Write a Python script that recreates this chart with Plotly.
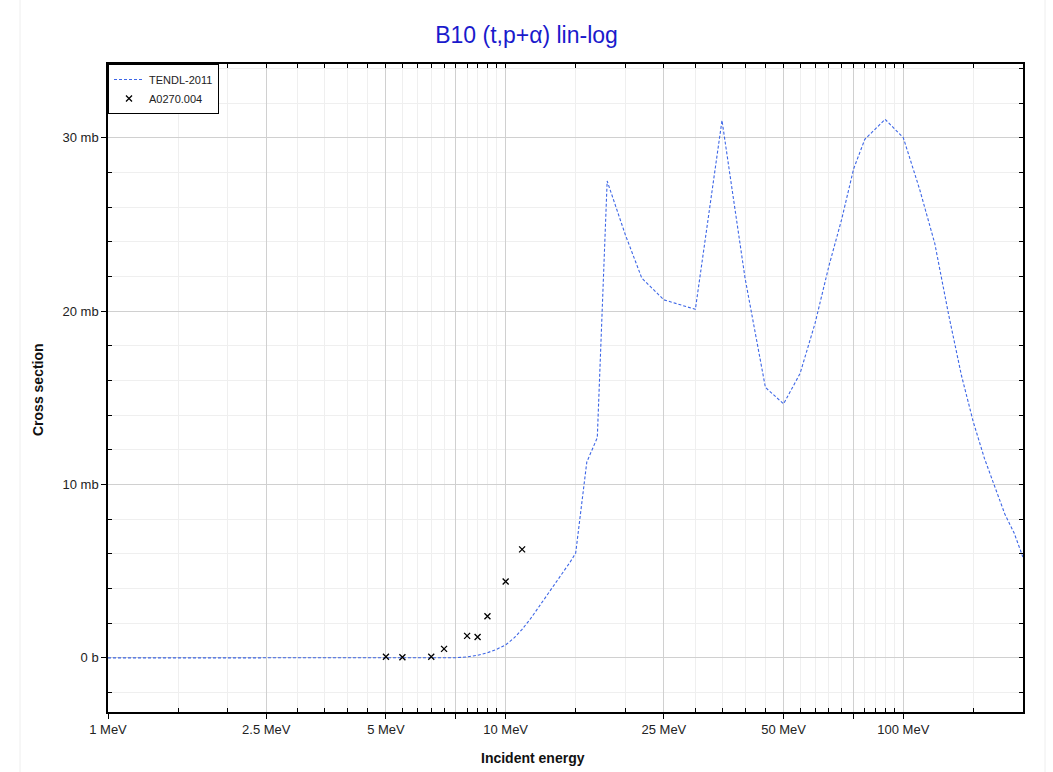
import plotly.graph_objects as go
import numpy as np

# ---------------- data ----------------
tendl_energy = [1, 2, 3, 4, 5, 6, 7, 7.5, 8, 8.5, 9, 9.5, 10, 10.5, 11, 11.5, 12, 12.5,
                13, 13.5, 14, 14.5, 15, 16, 17, 18, 20, 22, 25, 30, 35, 40, 45, 50,
                55, 60, 65, 70, 75, 80, 90, 100, 110, 120, 130, 140, 150, 160, 170,
                180, 190, 200]
tendl_xs = [0, 0, 0, 0, 0, 0, 0, 0.01, 0.06, 0.15, 0.3, 0.5, 0.75, 1.15, 1.65, 2.2, 2.8, 3.4,
            3.95, 4.5, 5.0, 5.5, 6.04, 11.3, 12.7, 27.5, 24.4, 21.9, 20.65, 20.1, 31.0, 21.9, 15.6, 14.65,
            16.4, 19.3, 22.6, 25.3, 28.2, 29.9, 31.06, 30.0, 27.0, 23.9, 19.8, 16.3, 13.6, 11.5, 9.8,
            8.3, 7.2, 5.8]

exp_energy = [5.0, 5.5, 6.5, 7.0, 8.0, 8.5, 9.0, 10.0, 11.0]
exp_xs = [0.07, 0.04, 0.07, 0.52, 1.27, 1.21, 2.40, 4.41, 6.26]

x_major = [1, 2.5, 5, 7.5, 10, 25, 50, 75, 100]
x_major_text = ["1 MeV", "2.5 MeV", "5 MeV", "", "10 MeV", "25 MeV", "50 MeV", "", "100 MeV"]
x_minor = [1.5, 2, 3, 3.5, 4, 4.5, 5.5, 6, 6.5, 7, 8, 8.5, 9, 9.5, 15, 20, 30, 35, 40, 45,
           55, 60, 65, 70, 80, 85, 90, 95, 150]
y_major = [0, 10, 20, 30]
y_major_text = ["0 b", "10 mb", "20 mb", "30 mb"]
y_minor = [-2, 2, 4, 6, 8, 12, 14, 16, 18, 22, 24, 26, 28, 32, 34]

x_range = [0, np.log10(200)]
y_range = [-3.12, 34.25]

FONT = "Liberation Sans, Arial, sans-serif"
MAJOR_GRID = "#d0d0d0"
MINOR_GRID = "#efefef"

fig = go.Figure()
fig.add_trace(go.Scatter(
    x=tendl_energy, y=tendl_xs, mode="lines", name="TENDL-2011",
    line=dict(color="#3d66e6", width=1.1, dash="3px,2px"),
))
fig.add_trace(go.Scatter(
    x=exp_energy, y=exp_xs, mode="markers", name="A0270.004",
    marker=dict(symbol="x-thin", size=6, color="black", line=dict(color="black", width=1.3)),
))
# invisible trace to activate mirrored tick axes
fig.add_trace(go.Scatter(
    x=[1], y=[0], xaxis="x2", yaxis="y2", mode="markers",
    marker=dict(opacity=0), showlegend=False, hoverinfo="skip",
))

fig.update_layout(
    width=1053, height=772,
    margin=dict(l=108, r=30, t=64, b=60),
    paper_bgcolor="white", plot_bgcolor="white",
    font=dict(family=FONT, size=13, color="#222"),
    title=dict(text="B10 (t,p+α) lin-log", x=0.5, xref="container", xanchor="center",
               y=1 - 35 / 772, yref="container", yanchor="middle",
               font=dict(family=FONT, size=23, color="#1a1acc")),
    showlegend=True,
    legend=dict(x=0, y=1, xanchor="left", yanchor="top", bgcolor="white",
                bordercolor="black", borderwidth=1,
                font=dict(family=FONT, size=11, color="#222"),
                tracegroupgap=0, itemwidth=30),
    xaxis=dict(
        type="log", range=x_range,
        tickmode="array", tickvals=x_major, ticktext=x_major_text,
        ticks="outside", ticklen=5, tickcolor="black", tickwidth=1,
        showgrid=True, gridcolor=MAJOR_GRID, gridwidth=1,
        showline=True, linecolor="black", linewidth=1.5, mirror=True,
        zeroline=False,
        minor=dict(tickmode="array", tickvals=x_minor, ticks="inside", ticklen=4,
                   tickcolor="black", showgrid=True, gridcolor=MINOR_GRID, gridwidth=1),
        tickfont=dict(family=FONT, size=13, color="#222"),
    ),
    yaxis=dict(
        range=y_range,
        tickmode="array", tickvals=y_major, ticktext=y_major_text,
        ticks="outside", ticklen=5, tickcolor="black", tickwidth=1,
        showgrid=True, gridcolor=MAJOR_GRID, gridwidth=1,
        showline=True, linecolor="black", linewidth=1.5, mirror=True,
        zeroline=False,
        minor=dict(tickmode="array", tickvals=y_minor, ticks="inside", ticklen=4,
                   tickcolor="black", showgrid=True, gridcolor=MINOR_GRID, gridwidth=1),
        tickfont=dict(family=FONT, size=13, color="#222"),
    ),
    xaxis2=dict(
        type="log", range=x_range, overlaying="x", side="top",
        tickmode="array", tickvals=x_major, showticklabels=False,
        ticks="inside", ticklen=4, tickcolor="black",
        showgrid=False, showline=False, zeroline=False,
        minor=dict(tickmode="array", tickvals=x_minor, ticks="inside", ticklen=4,
                   tickcolor="black", showgrid=False),
    ),
    yaxis2=dict(
        range=y_range, overlaying="y", side="right",
        tickmode="array", tickvals=y_major, showticklabels=False,
        ticks="inside", ticklen=4, tickcolor="black",
        showgrid=False, showline=False, zeroline=False,
        minor=dict(tickmode="array", tickvals=y_minor, ticks="inside", ticklen=4,
                   tickcolor="black", showgrid=False),
    ),
)

# axis titles as annotations (positioned like the reference)
fig.add_annotation(text="<b>Incident energy</b>", xref="paper", yref="paper",
                   x=(533 - 108) / 915, y=(712 - 758) / 648, xanchor="center", yanchor="middle",
                   showarrow=False, font=dict(family=FONT, size=14, color="#111"))
fig.add_annotation(text="<b>Cross section</b>", xref="paper", yref="paper",
                   x=(38 - 108) / 915, y=(712 - 390) / 648, xanchor="center", yanchor="middle",
                   textangle=-90, showarrow=False, font=dict(family=FONT, size=14, color="#111"))

# faint outer page borders
for px in (20, 1045):
    fig.add_shape(type="line", xref="paper", yref="paper",
                  x0=(px - 108) / 915, x1=(px - 108) / 915,
                  y0=(712 - 772) / 648, y1=712 / 648,
                  line=dict(color="#eeeeee", width=1), layer="below")

fig.write_html("out.html")
